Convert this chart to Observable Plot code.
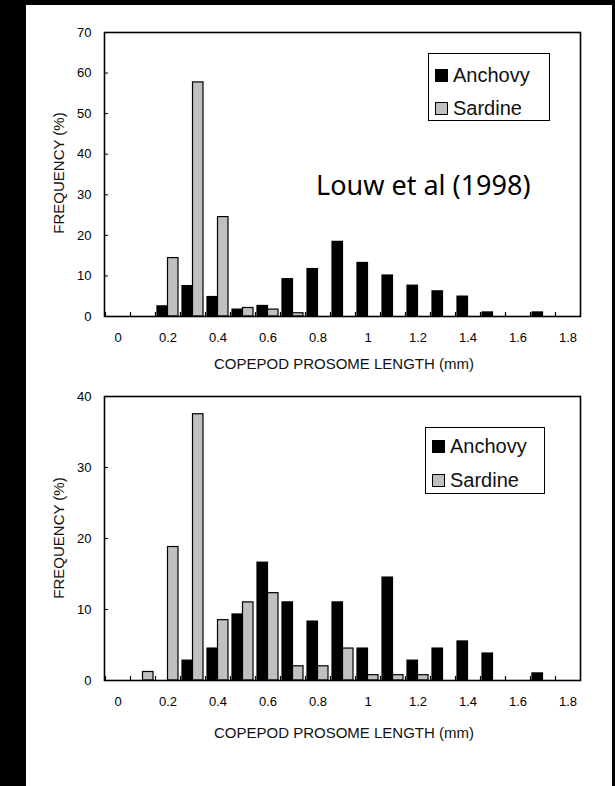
<!DOCTYPE html>
<html>
<head>
<meta charset="utf-8">
<script src="https://cdn.jsdelivr.net/npm/d3@7"></script>
<script src="https://cdn.jsdelivr.net/npm/@observablehq/plot@0.6"></script>
<style>
  html, body { margin: 0; padding: 0; }
  body { background: #000; width: 615px; height: 786px; overflow: hidden; position: relative;
         font-family: "Liberation Sans", Arial, sans-serif; color: #111; }
  #panel { position: absolute; left: 26px; top: 5px; width: 586px; height: 781px; background: #fff; }
  .chart { position: absolute; left: 0; }
  .ylab { position: absolute; font-size: 15px; white-space: nowrap; transform: translate(-50%, -50%) rotate(-90deg); }
  .xlab { position: absolute; font-size: 15px; white-space: nowrap; transform: translate(-50%, -50%); }
  .legend { position: absolute; border: 1.5px solid #000; background: #fff; box-sizing: border-box; }
  .legend .row { position: absolute; left: 0; height: 24px; display: flex; align-items: center; font-size: 20px; }
  .legend .sw { width: 11px; height: 11px; border: 1px solid #000; margin: 0 5px 0 6px; }
  .note { position: absolute; font-family: "Noto Sans", sans-serif; font-size: 27px; white-space: nowrap; color: #000; }
</style>
</head>
<body>
<div id="panel"></div>
<script>
// ---- data ----
const categories = ["0","0.1","0.2","0.3","0.4","0.5","0.6","0.7","0.8","0.9","1","1.1","1.2","1.3","1.4","1.5","1.6","1.7","1.8"];
const xTickLabels = ["0","0.2","0.4","0.6","0.8","1","1.2","1.4","1.6","1.8"];
const seriesNames = ["Anchovy", "Sardine"];
const seriesColors = ["#000000", "#c0c0c0"];

// Top panel (Louw et al 1998)
const anchovyTop = [0, 0, 2.5, 7.5, 4.8, 1.7, 2.6, 9.2, 11.7, 18.4, 13.2, 10.1, 7.6, 6.2, 4.9, 1.0, 0, 1.0, 0];
const sardineTop = [0, 0, 14.4, 57.7, 24.5, 2.1, 1.7, 0.8, 0, 0, 0, 0, 0, 0, 0, 0, 0, 0, 0];
const yTicksTop = [0, 10, 20, 30, 40, 50, 60, 70];

// Bottom panel
const anchovyBottom = [0, 0, 0, 2.8, 4.5, 9.3, 16.6, 11.0, 8.3, 11.0, 4.5, 14.5, 2.8, 4.5, 5.5, 3.8, 0, 1.0, 0];
const sardineBottom = [0, 1.2, 18.8, 37.5, 8.5, 11.0, 12.3, 2.0, 2.0, 4.5, 0.75, 0.75, 0.75, 0, 0, 0, 0, 0, 0];
const yTicksBottom = [0, 10, 20, 30, 40];

const xLabelText = "COPEPOD PROSOME LENGTH (mm)";
const yLabelText = "FREQUENCY (%)";
const noteText = "Louw et al (1998)";

function rows(vals) { return categories.map((c, i) => ({cat: c, v: vals[i]})); }

function makeChart({anchovy, sardine, yTicks, yMax, top, height, marginTop, marginBottom}) {
  const a = rows(anchovy).filter(d => d.v > 0);
  const s = rows(sardine).filter(d => d.v > 0);
  const svg = Plot.plot({
    width: 615,
    height,
    marginLeft: 104,
    marginRight: 35,
    marginTop,
    marginBottom,
    style: { background: "transparent", fontFamily: "'Liberation Sans', Arial, sans-serif", fontSize: "13px", color: "#000" },
    x: { type: "band", domain: categories, padding: 0, label: null },
    y: { domain: [0, yMax], label: null },
    marks: [
      Plot.barY(a, { x: "cat", y: "v", fill: seriesColors[0], stroke: "#000", strokeWidth: 1.2, insetLeft: 2, insetRight: 12.5 }),
      Plot.barY(s, { x: "cat", y: "v", fill: seriesColors[1], stroke: "#000", strokeWidth: 1.2, insetLeft: 12.5, insetRight: 2 }),
      Plot.ruleX(categories, { x: d => d, dx: -12.5, y1: 0, y2: 0, insetTop: -4, stroke: "#000", strokeWidth: 1.2 }),
      Plot.axisY({ ticks: yTicks, tickSize: -4, tickPadding: 17, tickFormat: d => String(d), label: null, fontSize: 13 }),
      Plot.axisX({ ticks: xTickLabels, tickSize: 0, tickPadding: 16, label: null, fontSize: 13 }),
      Plot.frame({ stroke: "#000", strokeWidth: 1.6 })
    ]
  });
  svg.classList.add("chart");
  svg.style.top = top + "px";
  document.body.appendChild(svg);
}

makeChart({ anchovy: anchovyTop, sardine: sardineTop, yTicks: yTicksTop, yMax: 70, top: 0, height: 380, marginTop: 32, marginBottom: 64 });
makeChart({ anchovy: anchovyBottom, sardine: sardineBottom, yTicks: yTicksBottom, yMax: 40, top: 380, height: 406, marginTop: 16, marginBottom: 106 });

function addText(cls, text, x, y) {
  const el = document.createElement("div");
  el.className = cls;
  el.textContent = text;
  el.style.left = x + "px";
  el.style.top = y + "px";
  document.body.appendChild(el);
  return el;
}
addText("ylab", yLabelText, 58, 173);
addText("ylab", yLabelText, 58, 538);
addText("xlab", xLabelText, 344, 363);
addText("xlab", xLabelText, 344, 732);

addText("note", noteText, 316, 166);

function addLegend(left, top, w, h, rowTops) {
  const lg = document.createElement("div");
  lg.className = "legend";
  Object.assign(lg.style, { left: left + "px", top: top + "px", width: w + "px", height: h + "px" });
  seriesNames.forEach((name, i) => {
    const r = document.createElement("div");
    r.className = "row";
    r.style.top = rowTops[i] + "px";
    const sw = document.createElement("div");
    sw.className = "sw";
    sw.style.background = seriesColors[i];
    const t = document.createElement("span");
    t.textContent = name;
    r.appendChild(sw); r.appendChild(t);
    lg.appendChild(r);
  });
  document.body.appendChild(lg);
}
addLegend(428, 53, 122, 68, [9, 42]);
addLegend(425, 427, 120, 67, [6, 40]);
</script>
</body>
</html>
